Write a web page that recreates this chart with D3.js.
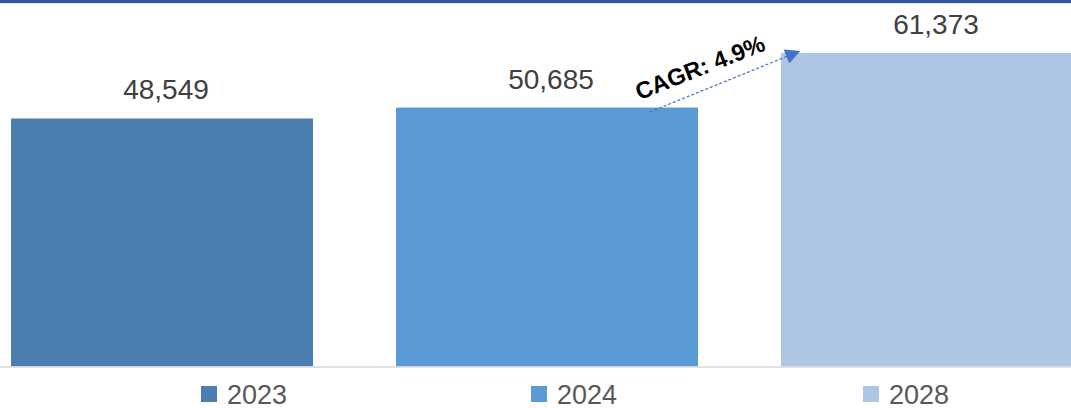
<!DOCTYPE html>
<html>
<head>
<meta charset="utf-8">
<script src="https://cdn.jsdelivr.net/npm/d3@7"></script>
<style>
  html, body { margin: 0; padding: 0; background: #fff; overflow: hidden; }
  svg { display: block; }
</style>
</head>
<body>
<svg id="chart" width="1071" height="408"></svg>
<script>
const categories = ["2023", "2024", "2028"];
const values = [48549, 50685, 61373];
const colors = ["#4A7FB0", "#5B9BD5", "#ADC6E5"];
const cagrLabel = "CAGR: 4.9%";

const svg = d3.select("#chart");
const W = 1071, H = 408;

// top decorative rule
svg.append("rect").attr("x", 0).attr("y", 0).attr("width", W).attr("height", 3).attr("fill", "#2F5597");
svg.append("rect").attr("x", 0).attr("y", 3).attr("width", W).attr("height", 1).attr("fill", "#DDEFF8");

const x = d3.scaleBand().domain(categories).range([11, 1083]).paddingInner(0.2156).paddingOuter(0);
const y = d3.scaleLinear().domain([0, 70000]).range([366.5, 8.9]);

svg.selectAll("rect.bar").data(values).enter().append("rect")
  .attr("class", "bar")
  .attr("x", (d, i) => x(categories[i]))
  .attr("y", d => y(d))
  .attr("width", x.bandwidth())
  .attr("height", d => y(0) - y(d))
  .attr("fill", (d, i) => colors[i]);

// baseline
svg.append("line").attr("x1", 0).attr("x2", W).attr("y1", y(0) + 0.5).attr("y2", y(0) + 0.5)
  .attr("stroke", "#D9D9D9").attr("stroke-width", 1.5);

// data labels
const fmt = d3.format(",");
svg.selectAll("text.lbl").data(values).enter().append("text")
  .attr("class", "lbl")
  .attr("x", (d, i) => x(categories[i]) + x.bandwidth() / 2 + 4)
  .attr("y", d => y(d) - 19)
  .attr("text-anchor", "middle")
  .attr("font-family", "Liberation Sans, Arial, sans-serif")
  .attr("font-size", 28)
  .attr("fill", "#404040")
  .text(d => fmt(d));

// CAGR arrow from 2024 bar top to 2028 bar top
const defs = svg.append("defs");
defs.append("marker").attr("id", "arr").attr("viewBox", "0 0 10 10")
  .attr("refX", 9).attr("refY", 5)
  .attr("markerUnits", "userSpaceOnUse").attr("orient", "auto")
  .attr("markerWidth", 17).attr("markerHeight", 15)
  .append("path").attr("d", "M0,0 L10,5 L0,10 Z").attr("fill", "#4472C4");

const x1 = x("2024") + x.bandwidth() * 0.84, y1 = y(values[1]) + 4.5;
const x2 = x("2028") + 18, y2 = y(values[2]) - 1.5;
svg.append("line").attr("x1", x1).attr("y1", y1).attr("x2", x2).attr("y2", y2)
  .attr("stroke", "#4472C4").attr("stroke-width", 1.2).attr("stroke-dasharray", "3,2")
  .attr("marker-end", "url(#arr)");

svg.append("text")
  .attr("transform", "translate(703,75) rotate(-21.5)")
  .attr("text-anchor", "middle")
  .attr("font-family", "Liberation Sans, Arial, sans-serif")
  .attr("font-weight", "bold")
  .attr("font-size", 23.5)
  .attr("fill", "#000")
  .text(cagrLabel);

// legend
const legendX = [201, 531, 863];
const lg = svg.selectAll("g.leg").data(categories).enter().append("g")
  .attr("class", "leg")
  .attr("transform", (d, i) => `translate(${legendX[i]},386)`);
lg.append("rect").attr("width", 16).attr("height", 16).attr("fill", (d, i) => colors[i]);
lg.append("text").attr("x", 26).attr("y", 17.5)
  .attr("font-family", "Liberation Sans, Arial, sans-serif")
  .attr("font-size", 27).attr("fill", "#595959")
  .text(d => d);
</script>
</body>
</html>
